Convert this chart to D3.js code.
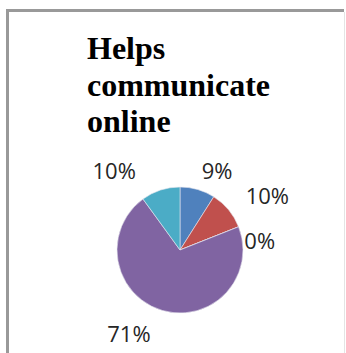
<!DOCTYPE html>
<html>
<head>
<meta charset="utf-8">
<script src="https://cdn.jsdelivr.net/npm/d3@7"></script>
<style>
  html, body { margin: 0; padding: 0; background: #fff; }
  svg { display: block; }
</style>
</head>
<body>
<script>
// Survey answers for "Helps communicate online"
const categories = ["A", "B", "C", "D", "E"];
const shares = [9, 10, 0, 71, 10];
const sliceColors = ["#4F81BD", "#C0504D", "#9BBB59", "#8064A2", "#4BACC6"];
const titleLines = ["Helps", "communicate", "online"];

const W = 346, H = 353;
const cx = 180, cy = 250, radius = 63;

const svg = d3.select("body").append("svg")
  .attr("width", W).attr("height", H);

// chart frame: left and top edges, faint right edge
svg.append("path")
  .attr("d", `M7.5,${H} V10.5 H344`)
  .attr("fill", "none")
  .attr("stroke", "#999")
  .attr("stroke-width", 3);
svg.append("line")
  .attr("x1", 344.5).attr("x2", 344.5)
  .attr("y1", 12).attr("y2", H)
  .attr("stroke", "#e4e4e4")
  .attr("stroke-width", 1);

// title
const title = svg.append("text")
  .attr("x", 87).attr("y", 59)
  .attr("font-family", "'Liberation Serif', 'Times New Roman', serif")
  .attr("font-weight", "bold")
  .attr("font-size", 32)
  .attr("fill", "#000");
title.selectAll("tspan").data(titleLines).join("tspan")
  .attr("x", 87)
  .attr("dy", (d, i) => i === 0 ? 0 : 36.5)
  .text(d => d);

const pie = d3.pie().sort(null).value(d => d.value);
const data = categories.map((c, i) => ({ cat: c, value: shares[i] }));
const arcs = pie(data);

const arc = d3.arc().innerRadius(0).outerRadius(radius);
const labelArc = d3.arc().innerRadius(90).outerRadius(90);

const g = svg.append("g").attr("transform", `translate(${cx},${cy})`);

g.selectAll("path.slice").data(arcs).join("path")
  .attr("class", "slice")
  .attr("d", arc)
  .attr("fill", (d, i) => sliceColors[i])
  .attr("stroke", "#e8e8f0")
  .attr("stroke-width", 0.6);

// label placement tweaks relative to the label arc
const labelNudge = [[12, 8], [18, 3.5], [-4, 24], [-26, -2], [-38, 7]];

g.selectAll("text.lbl").data(arcs).join("text")
  .attr("class", "lbl")
  .attr("x", (d, i) => labelArc.centroid(d)[0] + labelNudge[i][0])
  .attr("y", (d, i) => labelArc.centroid(d)[1] + labelNudge[i][1])
  .attr("dy", "0.35em")
  .attr("text-anchor", "middle")
  .attr("font-family", "'Open Sans', 'Noto Sans', sans-serif")
  .attr("font-size", 22)
  .attr("fill", "#262626")
  .text(d => d.data.value + "%");
</script>
</body>
</html>
